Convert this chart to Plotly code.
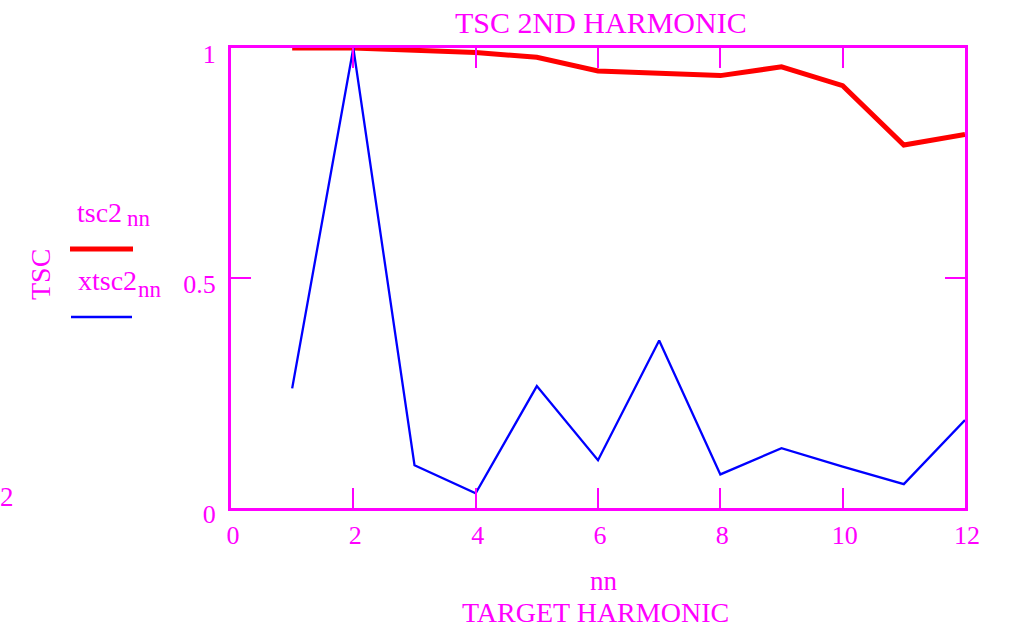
import plotly.graph_objects as go

nn = [1, 2, 3, 4, 5, 6, 7, 8, 9, 10, 11, 12]
tsc2 = [1.0, 1.0, 0.995, 0.99, 0.98, 0.95, 0.945, 0.94, 0.959, 0.918, 0.789, 0.812]
xtsc2 = [0.26, 1.0, 0.093, 0.032, 0.265, 0.104, 0.364, 0.073, 0.13, 0.09, 0.052, 0.191]
x_ticks = [0, 2, 4, 6, 8, 10, 12]
y_ticks = [0, 0.5, 1]
y_ticktext = ["0", "0.5", "1"]

MAG = "#ff00ff"
FONT = "Liberation Serif"
W, H = 1018, 633
l, r, t, b = 231, 53, 48, 125
pw, ph = W - l - r, H - t - b


def px2paper(x, y):
    return (x - l) / pw, 1 - (y - t) / ph


fig = go.Figure()
fig.add_trace(go.Scatter(x=nn, y=tsc2, mode="lines", line=dict(color="#ff0000", width=5),
                         name="tsc2", showlegend=False))
fig.add_trace(go.Scatter(x=nn, y=xtsc2, mode="lines", line=dict(color="#0000ff", width=2.3),
                         name="xtsc2", showlegend=False))

axis_common = dict(showgrid=False, zeroline=False, showline=True, linecolor=MAG, linewidth=3,
                   mirror="allticks", ticks="inside", ticklen=20, tickwidth=2, tickcolor=MAG,
                   tickfont=dict(family=FONT, size=26, color=MAG))

fig.update_xaxes(range=[0, 12], tickvals=x_ticks, ticktext=[str(v) for v in x_ticks],
                 ticklabelstandoff=2, ticklabelshift=2, **axis_common)
fig.update_yaxes(range=[0, 1], tickvals=y_ticks, ticktext=y_ticktext,
                 ticklabelstandoff=7, ticklabelshift=6, **axis_common)

annos = [
    dict(text="TSC 2ND HARMONIC", x=601, y=22, size=30),
    dict(text="nn", x=604, y=581, size=27),
    dict(text="TARGET HARMONIC", x=595, y=612, size=28),
    dict(text="2", x=7, y=497, size=27),
    dict(text="tsc2", x=99.5, y=212.5, size=28),
    dict(text="nn", x=138.5, y=219, size=23),
    dict(text="xtsc2", x=107, y=280.5, size=28),
    dict(text="nn", x=150, y=289, size=23),
    dict(text="TSC", x=40, y=275, size=28, angle=-90),
]
for a in annos:
    ax, ay = px2paper(a["x"], a["y"])
    fig.add_annotation(text=a["text"], x=ax, y=ay, xref="paper", yref="paper",
                       showarrow=False, textangle=a.get("angle", 0),
                       font=dict(family=FONT, size=a["size"], color=MAG),
                       xanchor="center", yanchor="middle")


def add_sample(x0, x1, y_px, color, width):
    px0, py = px2paper(x0, y_px)
    px1, _ = px2paper(x1, y_px)
    fig.add_shape(type="line", xref="paper", yref="paper", x0=px0, x1=px1, y0=py, y1=py,
                  line=dict(color=color, width=width))


add_sample(70, 133, 249, "#ff0000", 5)
add_sample(71, 132, 317, "#0000ff", 2.3)

fig.update_layout(width=W, height=H, margin=dict(l=l, r=r, t=t, b=b),
                  plot_bgcolor="white", paper_bgcolor="white",
                  font=dict(family=FONT, color=MAG), showlegend=False)
fig.write_html("out.html", config={"displayModeBar": False},
               post_script="document.body.style.margin='0px';")
